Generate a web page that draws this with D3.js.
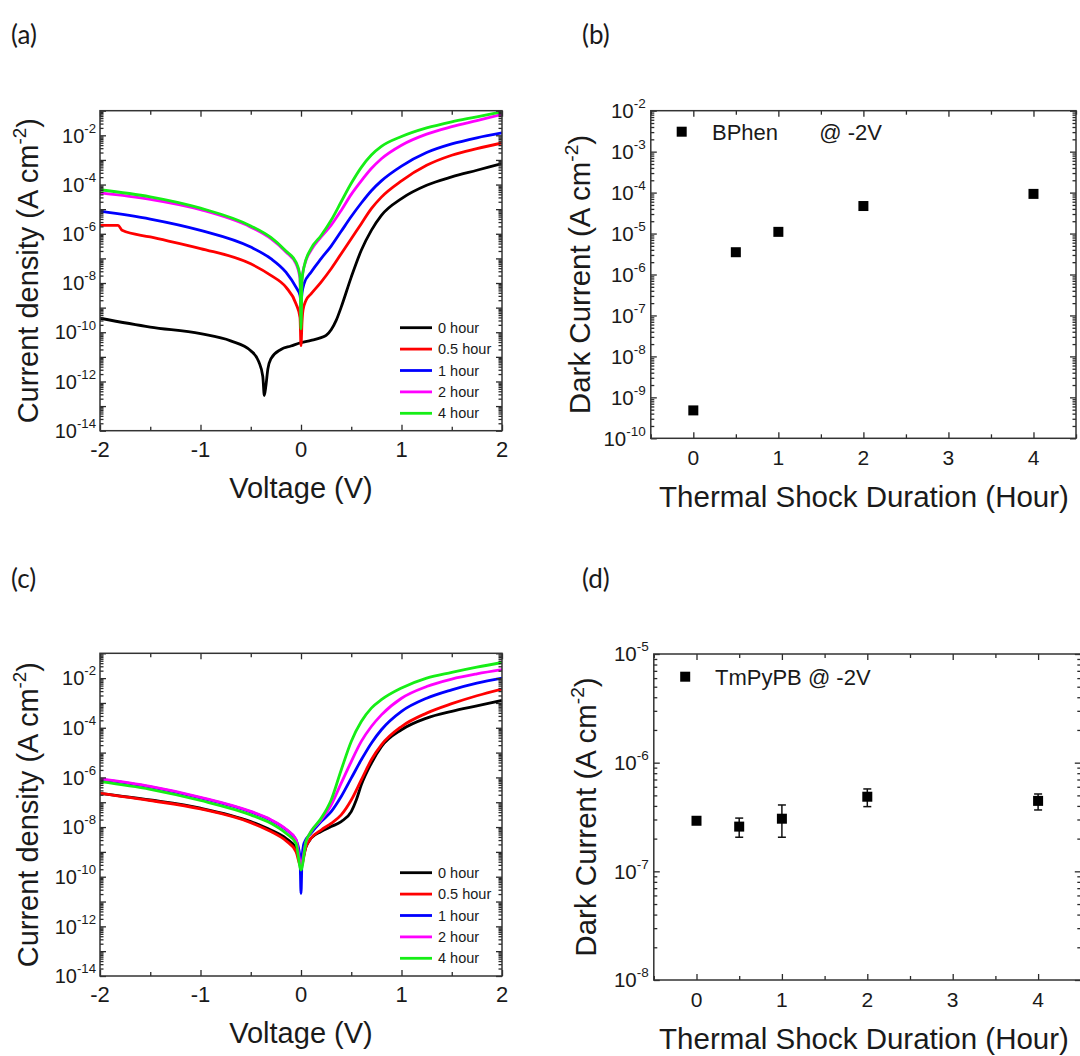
<!DOCTYPE html>
<html>
<head>
<meta charset="utf-8">
<script src="https://cdn.jsdelivr.net/npm/d3@7"></script>
<style>
  body { margin: 0; background: #fff; }
  svg text { font-family: "Liberation Sans", Arial, sans-serif; fill: #1a1a1a; }
  .axis { color: #2a2a2a; }
  .axis line { stroke-width: 1.3; }
</style>
</head>
<body>
<svg id="fig" width="1080" height="1056"></svg>
<script>
// curvas J-V (expoente log10 de J em A/cm2) e corrente de escuro a -2V

const legendLabels = ['0 hour', '0.5 hour', '1 hour', '2 hour', '4 hour'];
const curveColors = ['#000000', '#ff0000', '#0000ff', '#ff00ff', '#16ee16'];

// ---- painel (a): BPhen, [V, log10 J]
const bphen0h = [[-2, -9.43], [-1.5, -9.79], [-1, -10.06], [-0.7, -10.35], [-0.5, -10.75], [-0.42, -11.2], [-0.38, -11.8],
  [-0.365, -12.57], [-0.35, -12.2], [-0.33, -11.5], [-0.3, -11.08], [-0.2, -10.7], [-0.1, -10.56], [0, -10.42], [0.1, -10.33],
  [0.2, -10.22], [0.25, -10.13], [0.3, -9.9], [0.35, -9.52], [0.4, -8.98], [0.5, -7.76], [0.6, -6.67], [0.7, -5.86],
  [0.8, -5.25], [1, -4.57], [1.25, -4.03], [1.5, -3.69], [1.75, -3.42], [2, -3.15]];
const bphen05h = [[-2, -5.66], [-1.82, -5.66], [-1.78, -5.86], [-1.5, -6.13], [-1, -6.6], [-0.5, -7.22], [-0.3, -7.69],
  [-0.15, -8.17], [-0.05, -8.84], [-0.01, -9.4], [0, -10.54], [0.01, -9.6], [0.02, -9.1], [0.05, -8.7], [0.1, -8.44],
  [0.2, -7.96], [0.3, -7.42], [0.4, -6.81], [0.5, -6.2], [0.6, -5.59], [0.7, -4.98], [0.8, -4.51], [1, -3.85],
  [1.25, -3.22], [1.5, -2.81], [1.75, -2.54], [2, -2.31]];
const bphen1h = [[-2, -5.08], [-1.5, -5.4], [-1, -5.86], [-0.5, -6.54], [-0.3, -7.01], [-0.15, -7.56], [-0.05, -8.17],
  [-0.01, -8.5], [0, -8.75], [0.01, -8.4], [0.03, -8.03], [0.1, -7.56], [0.2, -7.01], [0.3, -6.5], [0.4, -5.9],
  [0.5, -5.3], [0.6, -4.75], [0.7, -4.25], [0.8, -3.85], [1, -3.25], [1.25, -2.7], [1.5, -2.35], [1.75, -2.1], [2, -1.9]];
const bphen2h = [[-2, -4.34], [-1.5, -4.6], [-1, -5.02], [-0.5, -5.73], [-0.3, -6.2], [-0.15, -6.74], [-0.05, -7.22],
  [-0.01, -7.8], [0, -9.3], [0.01, -7.8], [0.05, -7.08], [0.1, -6.67], [0.2, -6.13], [0.3, -5.65], [0.4, -5.05],
  [0.5, -4.4], [0.6, -3.85], [0.7, -3.35], [0.8, -2.95], [1, -2.4], [1.25, -1.95], [1.5, -1.65], [1.75, -1.4], [2, -1.15]];
const bphen4h = [[-2, -4.21], [-1.5, -4.5], [-1, -4.96], [-0.5, -5.68], [-0.3, -6.15], [-0.15, -6.7], [-0.05, -7.15],
  [-0.01, -7.7], [0, -9.86], [0.01, -7.9], [0.03, -7.35], [0.1, -6.6], [0.2, -6.07], [0.3, -5.45], [0.4, -4.7],
  [0.5, -3.95], [0.6, -3.3], [0.7, -2.8], [0.8, -2.45], [1, -2.05], [1.25, -1.7], [1.5, -1.45], [1.75, -1.25], [2, -1.04]];

// ---- painel (c): TmPyPB
const tmpypb0h = [[-2, -6.64], [-1.5, -6.91], [-1, -7.24], [-0.5, -7.78], [-0.3, -8.12], [-0.15, -8.45], [-0.05, -8.85],
  [0, -9.46], [0.05, -8.79], [0.1, -8.45], [0.2, -8.18], [0.3, -7.98], [0.4, -7.78], [0.5, -7.38], [0.55, -6.91],
  [0.6, -6.3], [0.7, -5.43], [0.8, -4.76], [1, -4.08], [1.25, -3.61], [1.5, -3.34], [1.75, -3.12], [2, -2.9]];
const tmpypb05h = [[-2, -6.64], [-1.5, -6.93], [-1, -7.27], [-0.5, -7.82], [-0.3, -8.18], [-0.15, -8.55], [-0.05, -8.99],
  [0, -9.6], [0.05, -8.79], [0.1, -8.45], [0.2, -8.12], [0.3, -7.85], [0.4, -7.51], [0.5, -6.91], [0.6, -6.1],
  [0.7, -5.29], [0.8, -4.69], [1, -3.95], [1.25, -3.41], [1.5, -3.03], [1.75, -2.71], [2, -2.44]];
const tmpypb1h = [[-2, -6.08], [-1.5, -6.38], [-1, -6.82], [-0.5, -7.39], [-0.3, -7.72], [-0.15, -8.1], [-0.05, -8.52],
  [-0.01, -9.2], [0, -10.67], [0.01, -9.3], [0.03, -8.65], [0.1, -8.25], [0.2, -7.78], [0.3, -7.38], [0.4, -6.77],
  [0.5, -6.03], [0.6, -5.29], [0.7, -4.62], [0.8, -4.08], [1, -3.34], [1.25, -2.81], [1.5, -2.47], [1.75, -2.2], [2, -2.0]];
const tmpypb2h = [[-2, -6.06], [-1.5, -6.36], [-1, -6.8], [-0.5, -7.37], [-0.3, -7.7], [-0.15, -8.08], [-0.05, -8.5],
  [0, -9.5], [0.05, -8.6], [0.1, -8.18], [0.2, -7.71], [0.3, -7.11], [0.4, -6.23], [0.5, -5.36], [0.6, -4.55],
  [0.7, -3.95], [0.8, -3.48], [1, -2.81], [1.25, -2.34], [1.5, -2.04], [1.75, -1.83], [2, -1.66]];
const tmpypb4h = [[-2, -6.17], [-1.5, -6.48], [-1, -6.93], [-0.5, -7.51], [-0.3, -7.85], [-0.15, -8.25], [-0.05, -8.65],
  [0, -9.73], [0.05, -8.59], [0.1, -8.18], [0.2, -7.65], [0.3, -6.91], [0.4, -5.7], [0.5, -4.55], [0.6, -3.75],
  [0.7, -3.21], [0.8, -2.87], [1, -2.4], [1.25, -2.0], [1.5, -1.77], [1.75, -1.56], [2, -1.37]];

// ---- paineis (b) e (d): corrente de escuro @ -2V
const shockHours = [0, 0.5, 1, 2, 4];
const bphenDark = [4.8e-10, 3.5e-6, 1.1e-5, 4.7e-5, 9.3e-5];
const tmpypbDark = [2.92e-7, 2.58e-7, 3.05e-7, 4.86e-7, 4.45e-7];
const tmpypbErrLow = [2.78e-7, 2.06e-7, 2.06e-7, 3.94e-7, 3.67e-7];
const tmpypbErrHigh = [3.06e-7, 3.09e-7, 4.08e-7, 5.73e-7, 5.15e-7];

const voltTicks = [-2, -1, 0, 1, 2];
const voltMinor = [-1.5, -0.5, 0.5, 1.5];
const hourTicks = [0, 1, 2, 3, 4];
const hourMinor = [-0.5, 0.5, 1.5, 2.5, 3.5, 4.5];

const svg = d3.select('#fig');

// ---------------------------------------------------------------- helpers
function decades(lo, hi) {
  const major = d3.range(lo, hi + 1).map((e) => Math.pow(10, e));
  const minor = [];
  for (let e = lo; e < hi; e++) for (let k = 2; k <= 9; k++) minor.push(k * Math.pow(10, e));
  return { major, minor };
}

function supLabel(sel, base, exp, supSize) {
  sel.append('tspan').text(base);
  sel.append('tspan').attr('dy', -supSize * 0.75).attr('font-size', supSize).text(exp);
}

function drawFrame(g, x, y, xMaj, xMin, logLo, logHi) {
  const [xl, xr] = x.range();
  const [yb, yt] = y.range();
  const { major, minor } = decades(logLo, logHi);
  const clean = (s) => s.select('.domain').remove();
  const put = (axisFn, scale, vals, size, tr) => g.append('g').attr('class', 'axis').attr('transform', tr)
    .call(axisFn(scale).tickValues(vals).tickSizeInner(-size).tickSizeOuter(0).tickFormat(() => '')).call(clean);

  put(d3.axisBottom, x, xMaj, 6, `translate(0,${yb})`);
  put(d3.axisBottom, x, xMin, 4, `translate(0,${yb})`);
  put(d3.axisTop, x, xMaj, 6, `translate(0,${yt})`);
  put(d3.axisTop, x, xMin, 4, `translate(0,${yt})`);
  put(d3.axisLeft, y, major, 6, `translate(${xl},0)`);
  put(d3.axisLeft, y, minor, 3.5, `translate(${xl},0)`);
  put(d3.axisRight, y, major, 6, `translate(${xr},0)`);
  put(d3.axisRight, y, minor, 3.5, `translate(${xr},0)`);

  g.append('rect').attr('x', xl).attr('y', yt).attr('width', xr - xl).attr('height', yb - yt)
    .attr('fill', 'none').attr('stroke', '#333').attr('stroke-width', 1.5);
}

function yLabels(g, y, exps, xPos, size) {
  for (const e of exps) {
    const t = g.append('text').attr('x', xPos).attr('y', y(Math.pow(10, e)) + size * 0.36)
      .attr('text-anchor', 'end').attr('font-size', size);
    supLabel(t, '10', String(e), size * 0.66);
  }
}

function xLabels(g, x, vals, yPos, size) {
  g.selectAll(null).data(vals).join('text')
    .attr('x', (d) => x(d)).attr('y', yPos).attr('text-anchor', 'middle').attr('font-size', size)
    .text((d) => String(d));
}

function yTitle(g, cx, cy, label, size) {
  const t = g.append('text').attr('transform', `translate(${cx},${cy}) rotate(-90)`)
    .attr('text-anchor', 'middle').attr('font-size', size);
  t.append('tspan').text(label + ' (A cm');
  t.append('tspan').attr('dy', -size * 0.42).attr('font-size', size * 0.65).text('-2');
  t.append('tspan').attr('dy', size * 0.42).text(')');
}

function panelTag(txt, px, py) {
  svg.append('text').attr('x', px).attr('y', py).attr('font-size', 26)
    .style('font-family', 'Lato, "Open Sans", sans-serif').text(txt);
}

// ------------------------------------------------------------ J-V panels
function drawIV(box, series, clipId, legendTop) {
  const g = svg.append('g');
  const x = d3.scaleLinear().domain([-2, 2]).range([box.left, box.right]);
  const y = d3.scaleLog().domain([1e-14, 1e-1]).range([box.bottom, box.top]);

  g.append('clipPath').attr('id', clipId).append('rect')
    .attr('x', box.left).attr('y', box.top).attr('width', box.right - box.left).attr('height', box.bottom - box.top);

  const line = d3.line().x((d) => x(d[0])).y((d) => y(Math.pow(10, d[1]))).curve(d3.curveMonotoneX);
  g.append('g').attr('clip-path', `url(#${clipId})`)
    .selectAll('path').data(series).join('path')
    .attr('d', line).attr('fill', 'none')
    .attr('stroke', (d, i) => curveColors[i]).attr('stroke-width', 2.8).attr('stroke-linejoin', 'round');

  drawFrame(g, x, y, voltTicks, voltMinor, -14, -1);
  yLabels(g, y, [-2, -4, -6, -8, -10, -12, -14], box.left - 4, 20);
  xLabels(g, x, voltTicks, box.bottom + 26, 22);

  g.append('text').attr('x', (box.left + box.right) / 2).attr('y', box.bottom + 67)
    .attr('text-anchor', 'middle').attr('font-size', 29).text('Voltage (V)');
  yTitle(g, 38, (box.top + box.bottom) / 2, 'Current density', 29);

  // legenda
  const leg = g.append('g').selectAll('g').data(legendLabels).join('g')
    .attr('transform', (d, i) => `translate(400,${legendTop + i * 21.4})`);
  leg.append('line').attr('x1', 0).attr('x2', 32).attr('stroke', (d, i) => curveColors[i]).attr('stroke-width', 2.8);
  leg.append('text').attr('x', 38).attr('y', 5).attr('font-size', 14.5).text((d) => d);
}

// ----------------------------------------------------- dark-current panels
function drawDark(box, values, logLo, logHi, name, err) {
  const g = svg.append('g');
  const x = d3.scaleLinear().domain([-0.5, 4.5]).range([box.left, box.right]);
  const y = d3.scaleLog().domain([Math.pow(10, logLo), Math.pow(10, logHi)]).range([box.bottom, box.top]);

  drawFrame(g, x, y, hourTicks, hourMinor, logLo, logHi);
  yLabels(g, y, d3.range(logHi, logLo - 1, -1), box.left - 5, 20.5);
  xLabels(g, x, hourTicks, box.bottom + 27, 21);

  if (err) {
    const eb = g.append('g').attr('stroke', '#111').attr('stroke-width', 1.5);
    shockHours.forEach((h, i) => {
      const cx = x(h);
      eb.append('line').attr('x1', cx).attr('x2', cx).attr('y1', y(err.low[i])).attr('y2', y(err.high[i]));
      eb.append('line').attr('x1', cx - 4).attr('x2', cx + 4).attr('y1', y(err.low[i])).attr('y2', y(err.low[i]));
      eb.append('line').attr('x1', cx - 4).attr('x2', cx + 4).attr('y1', y(err.high[i])).attr('y2', y(err.high[i]));
    });
  }

  const sq = 10;
  g.selectAll('rect.pt').data(values).join('rect').attr('class', 'pt')
    .attr('x', (d, i) => x(shockHours[i]) - sq / 2).attr('y', (d) => y(d) - sq / 2)
    .attr('width', sq).attr('height', sq).attr('fill', '#000');

  // legenda
  g.append('rect').attr('x', box.legX - 5).attr('y', box.legY - 5).attr('width', 10).attr('height', 10).attr('fill', '#000');
  name.forEach(([txt, tx]) => {
    g.append('text').attr('x', tx).attr('y', box.legY + 8).attr('font-size', 22).text(txt);
  });

  g.append('text').attr('x', 864).attr('y', box.bottom + 69)
    .attr('text-anchor', 'middle').attr('font-size', 29.5).text('Thermal Shock Duration (Hour)');
  yTitle(g, box.titleX, (box.top + box.bottom) / 2, 'Dark Current', 29.5);
}

drawIV({ left: 100, right: 502, top: 110.7, bottom: 430.7 },
  [bphen0h, bphen05h, bphen1h, bphen2h, bphen4h], 'clip-a', 327.7);
drawIV({ left: 100, right: 502, top: 653.3, bottom: 976 },
  [tmpypb0h, tmpypb05h, tmpypb1h, tmpypb2h, tmpypb4h], 'clip-c', 872.7);

drawDark({ left: 650.8, right: 1076, top: 110.7, bottom: 438.3, legX: 681.7, legY: 131.7, titleX: 590 },
  bphenDark, -10, -2, [['BPhen', 712], ['@ -2V', 819.3]], null);
drawDark({ left: 653.8, right: 1080.8, top: 654, bottom: 980, legX: 685.2, legY: 676.7, titleX: 596 },
  tmpypbDark, -8, -5, [['TmPyPB  @ -2V', 715]], { low: tmpypbErrLow, high: tmpypbErrHigh });

panelTag('(a)', 11, 44);
panelTag('(b)', 582, 44);
panelTag('(c)', 11, 588);
panelTag('(d)', 582, 588);
</script>
</body>
</html>
